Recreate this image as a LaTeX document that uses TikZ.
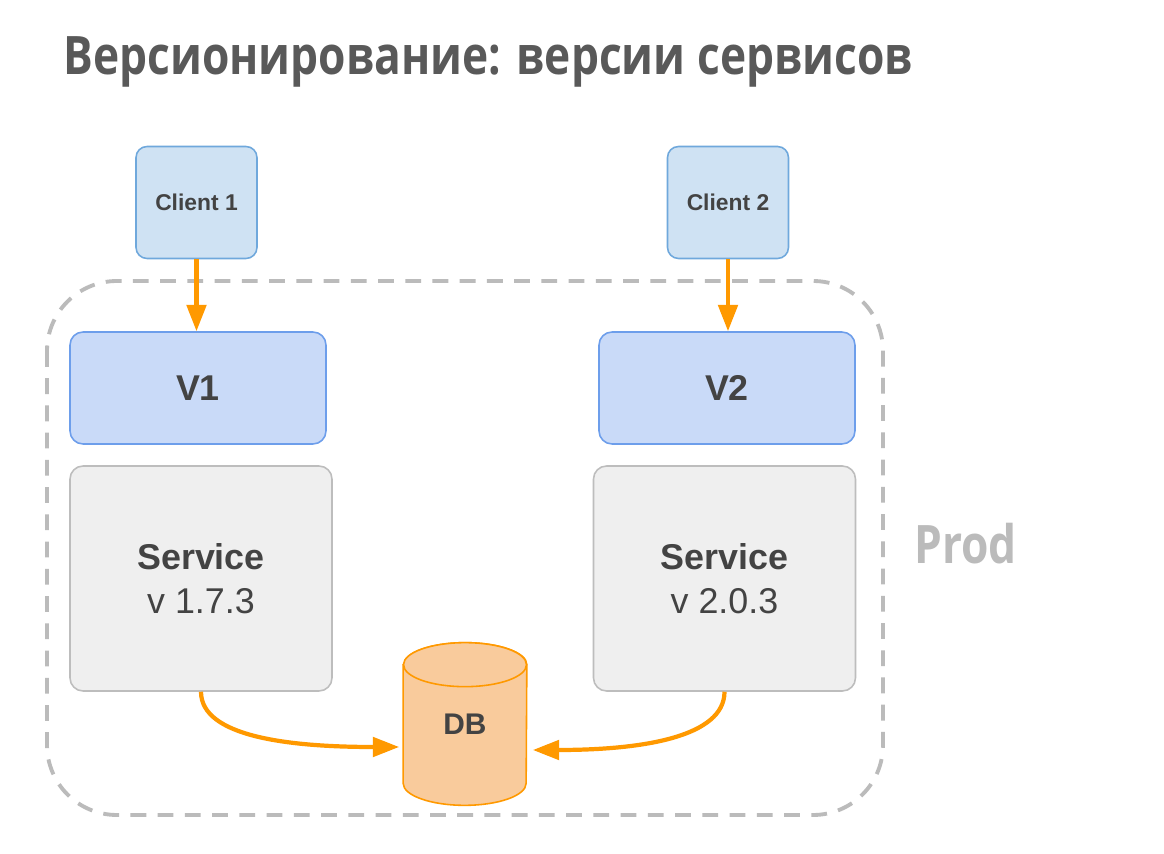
\documentclass[tikz,border=0pt]{standalone}
\usepackage{fontspec}
\setmainfont{Liberation Sans}
\newfontfamily\headfont[FakeStretch=0.835]{Open Sans}
\usepackage{tikz}
\usetikzlibrary{positioning,calc,arrows.meta}

\definecolor{titlegray}{HTML}{595959}
\definecolor{textgray}{HTML}{434343}
\definecolor{prodgray}{HTML}{BBBBBB}
\definecolor{clientfill}{HTML}{CFE2F3}
\definecolor{clientline}{HTML}{6FA8DC}
\definecolor{versionfill}{HTML}{C9DAF8}
\definecolor{versionline}{HTML}{6D9EEB}
\definecolor{servicefill}{HTML}{EFEFEF}
\definecolor{serviceline}{HTML}{BDBDBD}
\definecolor{dbfill}{HTML}{F9CB9C}
\definecolor{flowcolor}{HTML}{FF9900}

\tikzset{
  client/.style={draw=clientline, fill=clientfill, line width=0.9pt, rounded corners=0.22cm,
    minimum width=2.42cm, minimum height=2.24cm, text=textgray,
    font=\fontsize{13}{15}\selectfont\bfseries},
  version/.style={draw=versionline, fill=versionfill, line width=0.9pt, rounded corners=0.26cm,
    minimum width=5.12cm, minimum height=2.24cm, text=textgray,
    font=\fontsize{20.4}{25}\selectfont\bfseries},
  service/.style={draw=serviceline, fill=servicefill, line width=0.9pt, rounded corners=0.26cm,
    minimum width=5.24cm, minimum height=4.5cm, text=textgray, align=center,
    font=\fontsize{20.4}{25}\selectfont},
  dbbox/.style={minimum width=2.46cm, minimum height=2.36cm, inner sep=0pt, text=textgray,
    font=\fontsize{17}{20}\selectfont\bfseries},
  dbline/.style={draw=flowcolor, fill=dbfill, line width=0.9pt},
  flow/.style={draw=flowcolor, line width=2.4pt, -{Triangle[length=15pt,width=11pt]}},
  prodline/.style={draw=prodgray, line width=2.2pt, dash pattern=on 9pt off 6.5pt, rounded corners=1.4cm}
}

\begin{document}
\begin{tikzpicture}[x=0.02cm, y=-0.02cm]
  \useasboundingbox[fill=white] (0,0) rectangle (1164,854);

  % title
  \node[anchor=base west, inner sep=0pt, text=titlegray, font=\headfont\bfseries\fontsize{30.2}{35}\selectfont]
    (title) at (63,75) {Версионирование: версии сервисов};

  % prod frame
  \draw[prodline] (47,281) rectangle (883,815);
  \node[anchor=base west, inner sep=0pt, text=prodgray, font=\headfont\bfseries\fontsize{30.2}{35}\selectfont]
    (prod) at (914,564) {Prod};

  % clients
  \node[client] (c1) at (196.5,202.5) {Client 1};
  \node[client] (c2) at (728,202.5) {Client 2};

  % versions
  \node[version] (v1) at (198,388) {V1};
  \node[version] (v2) at (727,388) {V2};

  % services
  \node[service] (s1) at (201,578.5) {\textbf{Service}\\v 1.7.3};
  \node[service] (s2) at (724.5,578.5) {\textbf{Service}\\v 2.0.3};

  % database
  \node[dbbox] (db) at (465,724) {};
  \path[dbline] (db.north west) -- (db.south west)
    arc[start angle=180, end angle=360, x radius=1.23cm, y radius=0.44cm]
    -- (db.north east) arc[start angle=0, end angle=180, x radius=1.23cm, y radius=0.44cm] -- cycle;
  \path[dbline] (db.north) ellipse[x radius=1.23cm, y radius=0.44cm];
  \node[dbbox] at (db) {DB};

  % connectors
  \draw[flow] (c1.south) -- (c1.south |- v1.north);
  \draw[flow] (c2.south) -- (c2.south |- v2.north);
  \draw[flow] (s1.south) .. controls +(0,45) and +(-110,0) .. ($(db.west)+(-4,23)$);
  \draw[flow] (s2.south) .. controls +(0,45) and +(110,0) .. ($(db.east)+(6,26)$);
\end{tikzpicture}
\end{document}
